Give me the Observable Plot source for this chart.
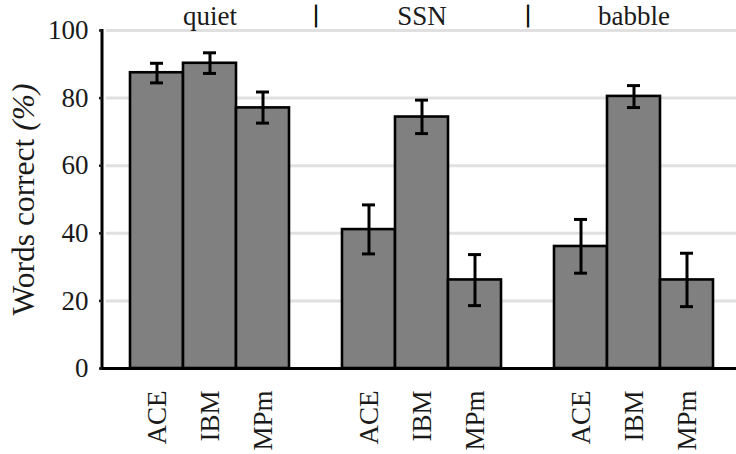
<!DOCTYPE html>
<html>
<head>
<meta charset="utf-8">
<script src="https://cdn.jsdelivr.net/npm/d3@7"></script>
<script src="https://cdn.jsdelivr.net/npm/@observablehq/plot@0.6"></script>
<style>
  html, body { margin: 0; padding: 0; background: #fff; }
</style>
</head>
<body>
<div id="chart"></div>
<script>
// Listening conditions and processing methods
const conditions = ["quiet", "SSN", "babble"];
const methods = ["ACE", "IBM", "MPm"];

// Mean words correct (%), one value per method (ACE, IBM, MPm)
const quietScores  = [87.5, 90.3, 77.1];
const ssnScores    = [41.1, 74.4, 26.2];
const babbleScores = [36.1, 80.5, 26.2];

// Error bar limits (%)
const quietLow   = [84.5, 87.3, 72.6];
const quietHigh  = [90.3, 93.4, 81.8];
const ssnLow     = [33.9, 69.5, 18.6];
const ssnHigh    = [48.4, 79.4, 33.7];
const babbleLow  = [28.2, 77.2, 18.3];
const babbleHigh = [44.1, 83.7, 34.1];

const yTicks = [0, 20, 40, 60, 80, 100];
const yLabel = "Words correct ";
const yUnit = "(%)";

// Assemble rows; an empty slot separates consecutive conditions
const scores = [quietScores, ssnScores, babbleScores];
const lows = [quietLow, ssnLow, babbleLow];
const highs = [quietHigh, ssnHigh, babbleHigh];
const rows = [];
const slots = [];
const gaps = [];
conditions.forEach((c, i) => {
  methods.forEach((m, j) => {
    const slot = c + "|" + m;
    slots.push(slot);
    rows.push({slot, condition: c, method: m, value: scores[i][j], low: lows[i][j], high: highs[i][j]});
  });
  if (i < conditions.length - 1) {
    const g = "gap" + i;
    slots.push(g);
    gaps.push(g);
  }
});
const barSlots = rows.map(d => d.slot);
const centerSlots = conditions.map(c => c + "|" + methods[1]);

const font = "Liberation Serif";
const ink = "#1a1a1a";

// Vertical axis line drawn from the y scale
const axisLine = (index, scales, values, dims) => {
  const line = d3.create("svg:line")
    .attr("x1", dims.marginLeft).attr("x2", dims.marginLeft)
    .attr("y1", scales.y(0) + 1.5).attr("y2", scales.y(100) - 1)
    .attr("stroke", "#000").attr("stroke-width", 3);
  return line.node();
};

const chart = Plot.plot({
  width: 736,
  height: 454,
  marginLeft: 102,
  marginRight: 0,
  marginTop: 30,
  marginBottom: 86,
  style: {fontFamily: font, fontSize: "27px", color: ink, background: "#fff"},
  x: {type: "band", domain: slots, range: [127.3, 715], padding: 0},
  y: {domain: [0, 100], range: [368, 30]},
  marks: [
    Plot.ruleY(yTicks.filter(d => d > 0), {stroke: "#e0e0e0", strokeWidth: 3, insetLeft: 4}),
    Plot.barY(rows, {x: "slot", y: "value", fill: "#808080", stroke: "#000", strokeWidth: 2.6}),
    Plot.ruleX(rows, {x: "slot", y1: "low", y2: "high", stroke: "#000", strokeWidth: 3}),
    Plot.tickY(rows, {x: "slot", y: "low", stroke: "#000", strokeWidth: 3, insetLeft: 20, insetRight: 20}),
    Plot.tickY(rows, {x: "slot", y: "high", stroke: "#000", strokeWidth: 3, insetLeft: 20, insetRight: 20}),
    Plot.ruleY([0], {stroke: "#000", strokeWidth: 3, insetLeft: -2}),
    axisLine,
    Plot.axisY({ticks: yTicks, tickSize: 3, tickPadding: 11, strokeWidth: 2.5, label: null, fontSize: 27, fontFamily: font}),
    Plot.axisX({ticks: barSlots, tickFormat: d => d.split("|")[1], tickRotate: -90, tickSize: 0, tickPadding: 22, label: null, fontSize: 27, fontFamily: font}),
    // condition labels above each group, separated by bars
    Plot.text(centerSlots, {x: d => d, frameAnchor: "top", text: d => d.split("|")[0], lineAnchor: "bottom", dy: -6, fontSize: 27, fontFamily: font, fill: ink}),
    Plot.text(gaps, {x: d => d, frameAnchor: "top", text: () => "|", lineAnchor: "bottom", dy: -9, fontSize: 25, fontFamily: font, fill: "#000", stroke: "#000", strokeWidth: 0.8}),
    Plot.text([yLabel], {frameAnchor: "left", text: d => d, rotate: -90, textAnchor: "middle", lineAnchor: "bottom", dx: -69, fontSize: 31.5, fontFamily: font, fill: ink, className: "ytitle"})
  ]
});

// The unit in the y title is set in italics
d3.select(chart).selectAll(".ytitle text").each(function () {
  const t = d3.select(this);
  t.text(null);
  t.append("tspan").text(yLabel);
  t.append("tspan").attr("font-style", "italic").text(yUnit);
});

document.getElementById("chart").appendChild(chart);
</script>
</body>
</html>
